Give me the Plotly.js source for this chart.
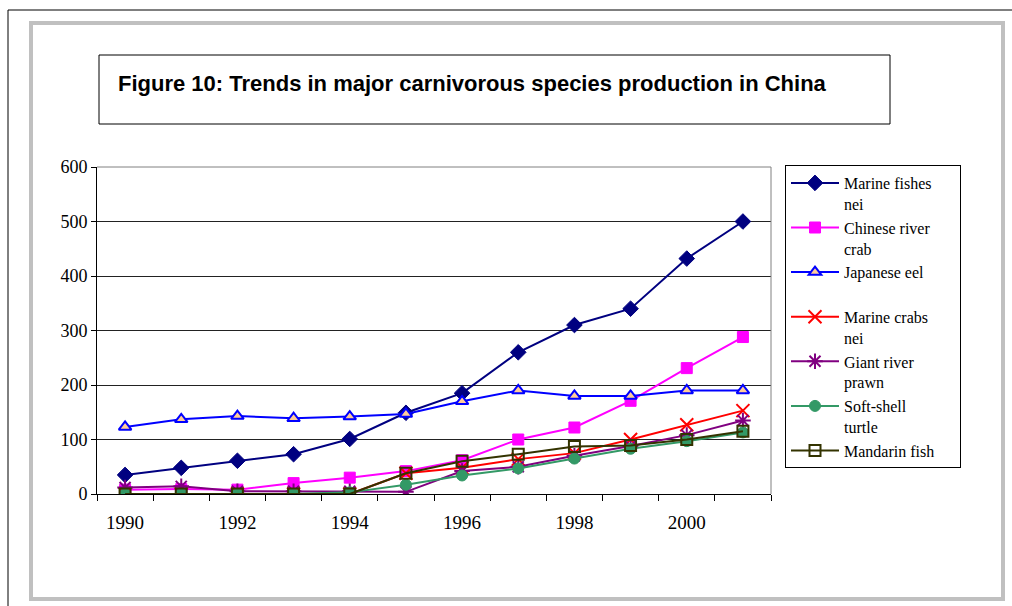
<!DOCTYPE html>
<html>
<head>
<meta charset="utf-8">
<script src="https://cdn.plot.ly/plotly-3.0.1.min.js"></script>
<style>
html,body{margin:0;padding:0;background:#fff;}
#chart{width:1012px;height:606px;}
</style>
</head>
<body>
<div id="chart"></div>
<script>
const years = [1990,1991,1992,1993,1994,1995,1996,1997,1998,1999,2000,2001];
const tickYears = [1990,1992,1994,1996,1998,2000];
const boundaryTicks = [1989.5,1990.5,1991.5,1992.5,1993.5,1994.5,1995.5,1996.5,1997.5,1998.5,1999.5,2000.5,2001.5];
const seriesNames = ["Marine fishes<br>nei","Chinese river<br>crab","Japanese eel<br>\u00a0","Marine crabs<br>nei","Giant river<br>prawn","Soft-shell<br>turtle","Mandarin fish\u00a0\u00a0\u00a0\u00a0\u00a0"];
const marineFishes    = [35, 48, 61, 73, 101, 149, 185, 260, 310, 340, 432, 500];
const chineseRiverCrab= [8, 9, 8, 20, 30, 42, 62, 100, 122, 171, 231, 288];
const japaneseEel     = [123, 137, 143, 139, 142, 147, 170, 190, 180, 180, 190, 190];
const marineCrabs     = [0, 0, 0, 0, 0, 38, 48, 64, 75, 100, 127, 153];
const giantRiverPrawn = [12, 14, 5, 5, 5, 4, 42, 50, 70, 88, 108, 135];
const softShellTurtle = [0, 0, 0, 0, 3, 17, 34, 47, 65, 83, 97, 113];
const mandarinFish    = [0, 0, 0, 0, 0, 38, 60, 73, 87, 89, 100, 115];

const seriesValues = [marineFishes, chineseRiverCrab, japaneseEel, marineCrabs, giantRiverPrawn, softShellTurtle, mandarinFish];
const styles = [
  {color:'#000080', symbol:'diamond', size:12, fill:'#000080', mline:'#000080', mw:1},
  {color:'#FF00FF', symbol:'square', size:11, fill:'#FF00FF', mline:'#FF00FF', mw:1},
  {color:'#0000FF', symbol:'triangle-up', size:11, fill:'#FFCC99', mline:'#0000FF', mw:2},
  {color:'#FF0000', symbol:'x-thin-open', size:13, fill:'#FF0000', mline:'#FF0000', mw:2},
  {color:'#800080', symbol:'asterisk-open', size:13, fill:'#800080', mline:'#800080', mw:2},
  {color:'#339966', symbol:'circle', size:11, fill:'#339966', mline:'#339966', mw:1},
  {color:'#333300', symbol:'square-open', size:11, fill:'#333300', mline:'#333300', mw:2}
];

const traces = seriesValues.map((vals,i)=>({
  type:'scatter', mode:'lines+markers', x:years, y:vals, name:seriesNames[i],
  line:{color:styles[i].color, width:2},
  marker:{symbol:styles[i].symbol, size:styles[i].size, color:styles[i].fill,
          line:{color:styles[i].mline, width:styles[i].mw}}
}));

// pixel -> paper helpers (plot area 97..771 x, 167..494 y)
const L=97, R=771, T=167, B=494;
const px = v => (v-L)/(R-L);
const py = v => (B-v)/(B-T);

const layout = {
  width:1012, height:606,
  margin:{l:L, r:1012-R, t:T, b:606-B, pad:0},
  paper_bgcolor:'#fff', plot_bgcolor:'#fff',
  showlegend:true,
  title:{text:'Figure 10: Trends in major carnivorous species production in China',
         font:{family:'Liberation Sans, Arial, sans-serif', size:22, color:'#000', weight:'bold'},
         xref:'paper', yref:'paper', x:px(118), xanchor:'left', y:py(79), yanchor:'middle'},
  xaxis:{range:[1989.5,2001.5], tickmode:'array', tickvals:tickYears, ticks:'',
         showgrid:false, zeroline:false, showline:true, linecolor:'#000', linewidth:1,
         tickfont:{family:'Liberation Serif, Times New Roman, serif', size:19, color:'#000'},
         ticklabelstandoff:11,
         minor:{tickmode:'array', tickvals:boundaryTicks, ticks:'outside', ticklen:6, tickcolor:'#000', tickwidth:1, showgrid:false}},
  yaxis:{range:[0,600], tickmode:'linear', tick0:0, dtick:100, ticks:'outside', ticklen:5,
         tickcolor:'#000', showline:true, linecolor:'#000', linewidth:1,
         showgrid:true, gridcolor:'#222', gridwidth:1, zeroline:false,
         tickfont:{family:'Liberation Serif, Times New Roman, serif', size:18, color:'#000'}},
  legend:{x:px(785), xanchor:'left', y:py(165), yanchor:'top', bgcolor:'#fff',
          bordercolor:'#000', borderwidth:1, valign:'top', itemwidth:48,
          font:{family:'Liberation Serif, Times New Roman, serif', size:16, color:'#000'},
          tracegroupgap:0},
  shapes:[
    {type:'line', xref:'paper', yref:'paper', x0:px(8), x1:px(1012), y0:py(10), y1:py(10), line:{color:'#000', width:1}},
    {type:'line', xref:'paper', yref:'paper', x0:px(8), x1:px(8), y0:py(10), y1:py(606), line:{color:'#000', width:1}},
    {type:'rect', xref:'paper', yref:'paper', x0:px(31), x1:px(1003), y0:py(23), y1:py(599), line:{color:'#C0C0C0', width:4}},
    {type:'rect', xref:'paper', yref:'paper', x0:px(99), x1:px(890), y0:py(55), y1:py(124), line:{color:'#000', width:1}},
    {type:'line', xref:'paper', yref:'paper', x0:0, x1:1, y0:1, y1:1, line:{color:'#808080', width:1}, layer:'above'},
    {type:'line', xref:'paper', yref:'paper', x0:1, x1:1, y0:0, y1:1, line:{color:'#808080', width:1}, layer:'above'}
  ]
};

Plotly.newPlot('chart', traces, layout, {displayModeBar:false, staticPlot:true});
</script>
</body>
</html>
